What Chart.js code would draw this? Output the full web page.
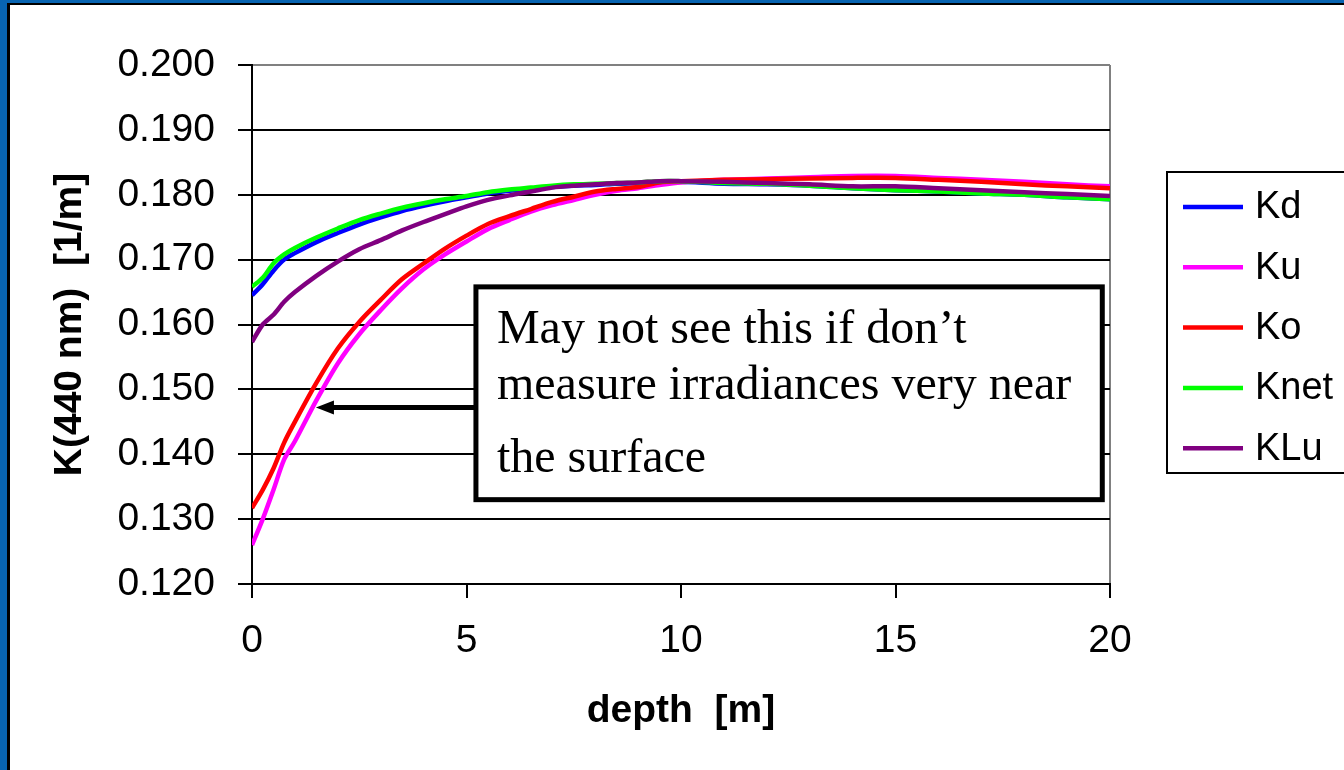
<!DOCTYPE html>
<html>
<head>
<meta charset="utf-8">
<title>K(440 nm) vs depth</title>
<script src="https://cdn.jsdelivr.net/npm/chart.js@4.4.1/dist/chart.umd.min.js"></script>
<style>
  body { margin: 0; background: #fff; }
  #wrap { position: absolute; left: 0; top: 0; width: 1344px; height: 770px; }
</style>
</head>
<body>
<div id="wrap"><canvas id="kChart" width="1344" height="770"></canvas></div>
<script>
// depth [m]
const depths = [0, 0.25, 0.5, 0.75, 1, 1.5, 2, 2.5, 3, 3.5, 4, 4.5, 5, 5.5, 6, 6.5, 7, 7.5, 8, 8.5, 9, 9.5, 10, 11, 12, 13, 14, 15, 16, 17, 18, 19, 20];

const kd   = [0.1645, 0.1662, 0.1683, 0.1700, 0.1710, 0.1727, 0.1741, 0.1754, 0.1765, 0.1775, 0.1783, 0.1790, 0.1796, 0.1802, 0.1806, 0.1809, 0.1812, 0.1814, 0.1815, 0.1817, 0.1818, 0.1820, 0.1820, 0.1817, 0.1816, 0.1814, 0.1810, 0.1807, 0.1805, 0.1802, 0.1800, 0.1796, 0.1793];
const ku   = [0.1260, 0.1300, 0.1345, 0.1392, 0.1420, 0.1483, 0.1540, 0.1585, 0.1622, 0.1656, 0.1685, 0.1708, 0.1728, 0.1747, 0.1761, 0.1774, 0.1784, 0.1792, 0.1800, 0.1806, 0.1810, 0.1815, 0.1819, 0.1823, 0.1825, 0.1827, 0.1829, 0.1829, 0.1826, 0.1823, 0.1820, 0.1816, 0.1813];
const ko   = [0.1317, 0.1345, 0.1378, 0.1418, 0.1450, 0.1510, 0.1563, 0.1604, 0.1638, 0.1670, 0.1694, 0.1717, 0.1737, 0.1755, 0.1767, 0.1778, 0.1789, 0.1797, 0.1805, 0.1809, 0.1812, 0.1819, 0.1821, 0.1823, 0.1824, 0.1825, 0.1826, 0.1826, 0.1823, 0.1820, 0.1816, 0.1813, 0.1810];
const knet = [0.1658, 0.1672, 0.1694, 0.1708, 0.1718, 0.1734, 0.1748, 0.1761, 0.1771, 0.1780, 0.1787, 0.1793, 0.1798, 0.1804, 0.1808, 0.1811, 0.1814, 0.1816, 0.1817, 0.1818, 0.1819, 0.1821, 0.1821, 0.1818, 0.1817, 0.1814, 0.1810, 0.1807, 0.1805, 0.1802, 0.1800, 0.1796, 0.1793];
const klu  = [0.1573, 0.1600, 0.1615, 0.1635, 0.1650, 0.1675, 0.1697, 0.1716, 0.1730, 0.1745, 0.1758, 0.1770, 0.1782, 0.1792, 0.1799, 0.1805, 0.1811, 0.1814, 0.1816, 0.1818, 0.1819, 0.1821, 0.1821, 0.1820, 0.1818, 0.1816, 0.1813, 0.1813, 0.1810, 0.1807, 0.1804, 0.1801, 0.1798];

const seriesNames  = ['Kd', 'Ku', 'Ko', 'Knet', 'KLu'];
const seriesValues = [kd, ku, ko, knet, klu];
const seriesColors = ['#0000ff', '#ff00ff', '#ff0000', '#00ff00', '#800080'];

const xTicks = [0, 5, 10, 15, 20];
const yTicks = [0.12, 0.13, 0.14, 0.15, 0.16, 0.17, 0.18, 0.19, 0.20];

const noteLines = ['May not see this if don\u2019t', 'measure irradiances very near', 'the surface'];

function toPoints(vals) {
    return vals.map(function(v, i) { return { x: depths[i], y: v }; });
}

const datasets = seriesNames.map(function(name, i) {
    return {
        label: name,
        data: toPoints(seriesValues[i]),
        borderColor: seriesColors[i],
        backgroundColor: seriesColors[i],
        borderWidth: 4.5,
        pointRadius: 0,
        tension: 0.3,
        fill: false,
        order: seriesNames.length - i   // later series on top, like the original
    };
});

// blue slide frame on the left / top
const framePlugin = {
    id: 'frame',
    beforeDraw(chart) {
        const c = chart.ctx;
        c.save();
        c.fillStyle = '#fff';
        c.fillRect(0, 0, chart.width, chart.height);
        c.fillStyle = '#0864b1';
        c.fillRect(0, 0, 7, chart.height);
        c.fillRect(0, 0, chart.width, 3);
        c.fillStyle = '#000';
        c.fillRect(7, 3, 3, chart.height);
        c.fillRect(7, 3, chart.width, 2);
        c.restore();
    }
};

// note box + arrow and the boxed legend
const notePlugin = {
    id: 'note',
    afterDraw(chart) {
        const c = chart.ctx;
        const xs = chart.scales.x, ys = chart.scales.y;
        c.save();

        // arrow
        const ax0 = xs.getPixelForValue(5.22), ax1 = xs.getPixelForValue(1.49);
        const ay = ys.getPixelForValue(0.1472);
        c.strokeStyle = '#000';
        c.lineWidth = 5;
        c.beginPath();
        c.moveTo(ax0, ay);
        c.lineTo(ax1 + 14, ay);
        c.stroke();
        c.fillStyle = '#000';
        c.beginPath();
        c.moveTo(ax1, ay);
        c.lineTo(ax1 + 18, ay - 7);
        c.lineTo(ax1 + 18, ay + 7);
        c.closePath();
        c.fill();

        // box
        const bx0 = xs.getPixelForValue(5.22), bx1 = xs.getPixelForValue(19.82);
        const by0 = ys.getPixelForValue(0.1658), by1 = ys.getPixelForValue(0.1330);
        c.fillStyle = '#fff';
        c.fillRect(bx0, by0, bx1 - bx0, by1 - by0);
        c.lineWidth = 5;
        c.strokeStyle = '#000';
        c.strokeRect(bx0, by0, bx1 - bx0, by1 - by0);

        c.fillStyle = '#000';
        c.font = '48px "Liberation Serif", "Times New Roman", serif';
        c.textAlign = 'left';
        c.textBaseline = 'alphabetic';
        const baselines = [343, 399, 472];
        noteLines.forEach(function(t, i) {
            c.fillText(t, bx0 + 21, baselines[i]);
        });

        // legend
        c.lineWidth = 2;
        c.strokeStyle = '#000';
        c.strokeRect(1167, 172, 190, 301);
        c.font = '38px "Liberation Sans", Arial, sans-serif';
        c.textBaseline = 'middle';
        seriesNames.forEach(function(name, i) {
            const y = 207 + i * 60.3;
            c.strokeStyle = seriesColors[i];
            c.lineWidth = 4.5;
            c.beginPath();
            c.moveTo(1183, y);
            c.lineTo(1243, y);
            c.stroke();
            c.fillStyle = '#000';
            c.fillText(name, 1255, y + 1);
        });
        c.restore();
    }
};

const ctx = document.getElementById('kChart').getContext('2d');

const kChart = new Chart(ctx, {
    type: 'line',
    data: { datasets: datasets },
    options: {
        responsive: false,
        animation: false,
        layout: { padding: { left: 0, top: 65, right: 234, bottom: 0 } },
        plugins: {
            legend: { display: false },
            tooltip: { enabled: false }
        },
        scales: {
            x: {
                type: 'linear',
                min: 0,
                max: 20,
                afterBuildTicks(scale) {
                    scale.ticks = xTicks.map(function(v) { return { value: v }; });
                },
                afterFit(scale) {
                    scale.height = 186;
                    scale.paddingLeft = 0;
                    scale.paddingRight = 0;
                },
                ticks: {
                    color: '#000',
                    font: { family: '"Liberation Sans", Arial, sans-serif', size: 39 },
                    padding: 20,
                    maxRotation: 0
                },
                grid: {
                    color: function(c) { return c.tick && c.tick.value === 20 ? '#808080' : 'rgba(0,0,0,0)'; },
                    lineWidth: 2,
                    tickColor: '#000',
                    tickLength: 14,
                    tickWidth: 2
                },
                border: { color: '#000', width: 2 },
                title: {
                    display: true,
                    text: 'depth  [m]',
                    color: '#000',
                    font: { family: '"Liberation Sans", Arial, sans-serif', size: 39, weight: 'bold' },
                    padding: { top: 0, bottom: 35 }
                }
            },
            y: {
                min: 0.12,
                max: 0.2,
                afterBuildTicks(scale) {
                    scale.ticks = yTicks.map(function(v) { return { value: v }; });
                },
                afterFit(scale) {
                    scale.width = 252;
                    scale.paddingTop = 0;
                    scale.paddingBottom = 0;
                },
                ticks: {
                    color: '#000',
                    font: { family: '"Liberation Sans", Arial, sans-serif', size: 39 },
                    padding: 23,
                    callback: function(v) { return Number(v).toFixed(3); }
                },
                grid: {
                    color: function(c) { return c.tick && Math.abs(c.tick.value - 0.2) < 1e-9 ? '#808080' : '#000'; },
                    lineWidth: 2,
                    tickColor: '#000',
                    tickLength: 14,
                    tickWidth: 2
                },
                border: { color: '#000', width: 2 },
                title: {
                    display: true,
                    text: 'K(440 nm)  [1/m]',
                    color: '#000',
                    font: { family: '"Liberation Sans", Arial, sans-serif', size: 39, weight: 'bold' },
                    padding: { top: 47, bottom: 0 }
                }
            }
        }
    },
    plugins: [framePlugin, notePlugin]
});
</script>
</body>
</html>
